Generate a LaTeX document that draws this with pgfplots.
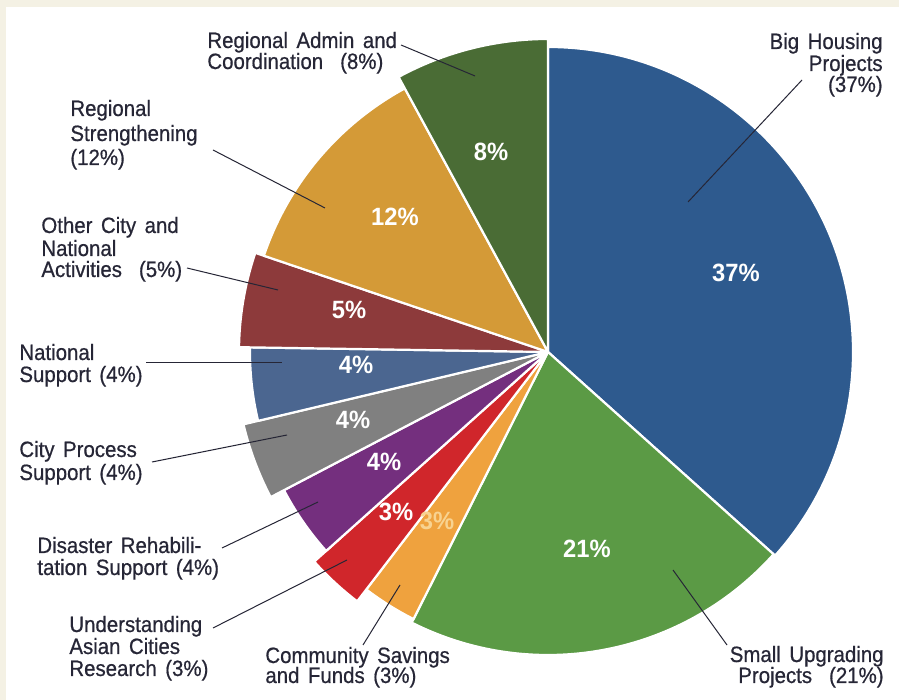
\documentclass[border=0pt]{standalone}
\usepackage{pgfplots}
\pgfplotsset{compat=1.18}
\usepackage{pgfplotstable}
\usepackage{fontspec}
\setmainfont{Liberation Sans}[FakeStretch=0.92, WordSpace=1.5, FakeBold=0.6]
\newfontfamily\pctfont{Liberation Sans}[FakeStretch=0.95]
\definecolor{cBH}{HTML}{2E5A8E}
\definecolor{cSU}{HTML}{5B9A45}
\definecolor{cCS}{HTML}{EFA23E}
\definecolor{cUA}{HTML}{D0262B}
\definecolor{cDR}{HTML}{742F7E}
\definecolor{cCP}{HTML}{808080}
\definecolor{cNS}{HTML}{4B6690}
\definecolor{cOC}{HTML}{8D3A3B}
\definecolor{cRS}{HTML}{D49A37}
\definecolor{cRA}{HTML}{4A6C35}
\definecolor{txt}{HTML}{262636}
\definecolor{bg}{HTML}{F4F1E4}
\definecolor{lightpct}{HTML}{F8D391}

% share (%), outer radius (px), colour; clockwise from 12 o'clock
\pgfplotstableread{
pct rad col
37 305 cBH
21 303 cSU
3 299 cCS
3 314 cUA
4 298 cDR
4 313 cCP
4 298 cNS
5 309 cOC
12 300 cRS
8 313 cRA
}\piedata

\def\pietotal{101}
\gdef\curang{90}
\foreach \i in {0,...,9}{%
  \pgfplotstablegetelem{\i}{pct}\of\piedata\let\tmpP\pgfplotsretval
  \pgfplotstablegetelem{\i}{rad}\of\piedata\let\tmpR\pgfplotsretval
  \pgfplotstablegetelem{\i}{col}\of\piedata\let\tmpC\pgfplotsretval
  \pgfmathsetmacro\tmpA{\curang}%
  \pgfmathsetmacro\tmpB{\curang-\tmpP*360/\pietotal}%
  \pgfmathsetmacro\tmpX{548+\tmpR*cos(\tmpA)}%
  \pgfmathsetmacro\tmpY{348+\tmpR*sin(\tmpA)}%
  \pgfmathsetmacro\tmpRR{\tmpR*0.5}%
  \expandafter\xdef\csname pa\i\endcsname{\tmpA}%
  \expandafter\xdef\csname pb\i\endcsname{\tmpB}%
  \expandafter\xdef\csname px\i\endcsname{\tmpX}%
  \expandafter\xdef\csname py\i\endcsname{\tmpY}%
  \expandafter\xdef\csname pr\i\endcsname{\tmpRR}%
  \expandafter\xdef\csname pc\i\endcsname{\tmpC}%
  \xdef\curang{\tmpB}%
}

\newcommand\Lw[3]{\node[anchor=base west, inner sep=0pt, text=txt] at (axis cs:#1,#2) {#3};}
\newcommand\Le[3]{\node[anchor=base east, inner sep=0pt, text=txt] at (axis cs:#1,#2) {#3};}
\newcommand\Ld[4]{\draw[txt, line width=0.5pt] (axis cs:#1,#2) -- (axis cs:#3,#4);}
\newcommand\Pc[3]{\node[text=white, inner sep=0pt, font=\pctfont\bfseries\fontsize{12.5}{12.5}\selectfont] at (axis cs:#1,#2) {#3};}

\begin{document}
\begin{tikzpicture}
\begin{axis}[x=0.5pt, y=0.5pt, xmin=0, xmax=899, ymin=0, ymax=700,
  hide axis, clip=false]
\fill[bg] (axis cs:0,0) rectangle (axis cs:899,700);
\fill[white] (axis cs:6,0) rectangle (axis cs:899,693);
\pgfplotsinvokeforeach{0,...,9}{%
  \edef\tmp{\noexpand\fill[fill=\csname pc#1\endcsname, draw=white, line width=1.1pt, line join=round]
    (axis cs:548,348) -- (axis cs:\csname px#1\endcsname,\csname py#1\endcsname)
    arc[start angle=\csname pa#1\endcsname, end angle=\csname pb#1\endcsname, radius=\csname pr#1\endcsname pt] -- cycle;}%
  \tmp
}
% percentage labels inside
\Pc{736}{427}{37\%}
\Pc{587}{151}{21\%}
\Pc{491}{548}{8\%}
\Pc{395}{483}{12\%}
\Pc{349}{390}{5\%}
\Pc{356}{335}{4\%}
\Pc{353}{280}{4\%}
\Pc{384}{238}{4\%}
\Pc{396}{188}{3\%}
\node[text=lightpct, inner sep=0pt, font=\pctfont\bfseries\fontsize{12.5}{12.5}\selectfont] at (axis cs:437,179) {3\%};
% outer labels
\fontsize{11.1}{11}\selectfont
\Lw{207}{652}{Regional Admin and}
\Lw{207}{631}{Coordination\ \ (8\%)}
\Ld{401}{655}{475}{624}
\Le{883}{651}{Big Housing}
\Le{883}{629}{Projects}
\Le{883}{608}{(37\%)}
\Ld{802}{620}{688}{498}
\Lw{70}{584}{Regional}
\Lw{70}{559}{Strengthening}
\Lw{70}{535}{(12\%)}
\Ld{213}{550}{325}{492}
\Lw{41}{467}{Other City and}
\Lw{41}{444}{National}
\Lw{41}{423}{Activities\ \ (5\%)}
\Ld{187}{432}{278}{410}
\Lw{19}{340}{National}
\Lw{19}{318}{Support\ (4\%)}
\Ld{146}{337}{282}{337}
\Lw{19}{243}{City Process}
\Lw{19}{220}{Support (4\%)}
\Ld{152}{238}{287}{265}
\Lw{37}{147}{Disaster Rehabili-}
\Lw{37}{125}{tation Support\ (4\%)}
\Ld{222}{152}{318}{198}
\Lw{69}{68}{Understanding}
\Lw{69}{46}{Asian Cities}
\Lw{69}{24}{Research (3\%)}
\Ld{213}{72}{347}{140}
\Lw{265}{37}{Community Savings}
\Lw{265}{17}{and Funds\ (3\%)}
\Ld{363}{55}{400}{115}
\Le{884}{38}{Small Upgrading}
\Le{884}{17}{Projects\ \ (21\%)}
\Ld{727}{55}{673}{130}
\end{axis}
\end{tikzpicture}
\end{document}
